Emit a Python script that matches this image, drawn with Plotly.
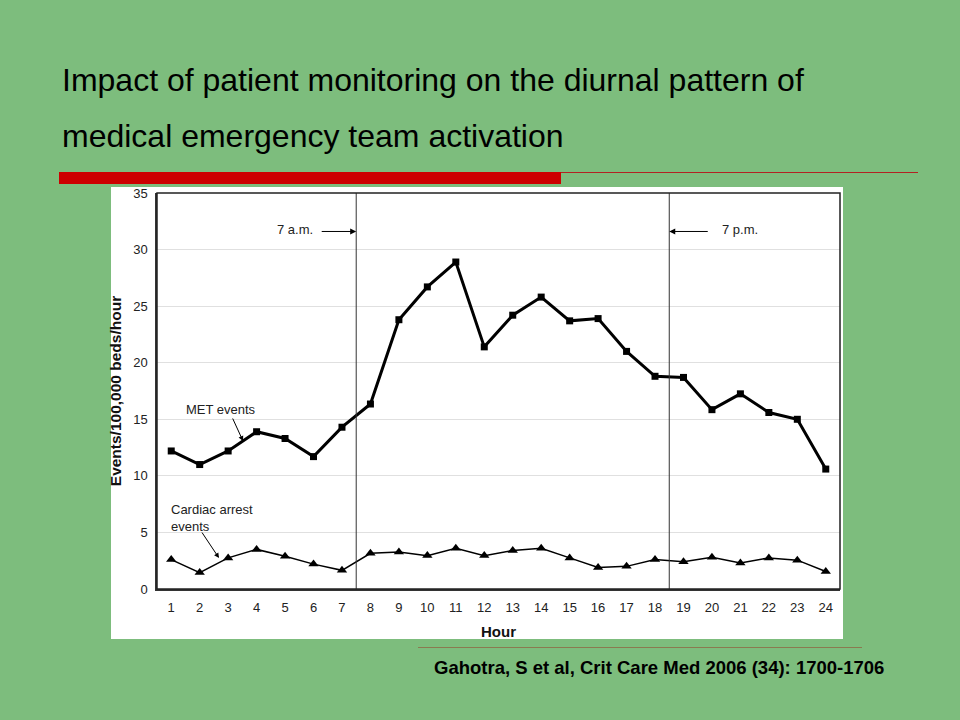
import plotly.graph_objects as go

hours = list(range(1, 25))
hour_labels = [str(h) for h in hours]
met_events = [12.2, 11.0, 12.2, 13.9, 13.3, 11.7, 14.3, 16.35, 23.8, 26.7, 28.9, 21.4,
              24.2, 25.8, 23.7, 23.9, 21.0, 18.8, 18.7, 15.85, 17.25, 15.6, 15.0, 10.6]
cardiac_arrest = [2.6, 1.45, 2.75, 3.5, 2.9, 2.2, 1.65, 3.15, 3.27, 2.95, 3.6, 2.95,
                  3.4, 3.6, 2.75, 1.9, 2.0, 2.6, 2.4, 2.8, 2.3, 2.75, 2.55, 1.55]
y_ticks = [0, 5, 10, 15, 20, 25, 30, 35]

W, H = 960, 720
L, R, T, B = 157, 840, 193, 589  # plot area in pixels


def px(x):
    return (x - L) / (R - L)


def py(y):
    return (B - y) / (B - T)


GREEN = "#7dbd7d"
FONT = "Liberation Sans, Arial, sans-serif"

fig = go.Figure()
fig.add_trace(go.Scatter(
    x=hours, y=met_events, mode="lines+markers", name="MET events",
    line=dict(color="black", width=3),
    marker=dict(symbol="square", size=7, color="black"),
))
fig.add_trace(go.Scatter(
    x=hours, y=cardiac_arrest, mode="lines+markers", name="Cardiac arrest events",
    line=dict(color="black", width=1.5),
    marker=dict(symbol="triangle-up", size=9, color="black"),
))

shapes = [
    dict(type="rect", xref="paper", yref="paper", x0=px(111), x1=px(843), y0=py(639), y1=py(187),
         fillcolor="white", line=dict(width=0), layer="below"),
    dict(type="rect", xref="paper", yref="paper", x0=px(59), x1=px(561), y0=py(184), y1=py(172),
         fillcolor="#cc0000", line=dict(width=0)),
    dict(type="line", xref="paper", yref="paper", x0=px(561), x1=px(918), y0=py(172.5), y1=py(172.5),
         line=dict(color="#b22222", width=1)),
    dict(type="line", xref="paper", yref="paper", x0=px(418), x1=px(862), y0=py(647.5), y1=py(647.5),
         line=dict(color="#8a7a50", width=1)),
    dict(type="line", xref="x", yref="paper", x0=7.5, x1=7.5, y0=0, y1=1,
         line=dict(color="#333333", width=1)),
    dict(type="line", xref="x", yref="paper", x0=18.5, x1=18.5, y0=0, y1=1,
         line=dict(color="#333333", width=1)),
    dict(type="rect", xref="paper", yref="paper", x0=0, x1=1, y0=0, y1=1,
         line=dict(color="#222222", width=1.5)),
]

annotations = [
    dict(text="Impact of patient monitoring on the diurnal pattern of", xref="paper", yref="paper",
         x=px(60), y=py(80), xanchor="left", yanchor="middle", showarrow=False,
         font=dict(size=32, color="black", family=FONT)),
    dict(text="medical emergency team activation", xref="paper", yref="paper",
         x=px(60), y=py(136), xanchor="left", yanchor="middle", showarrow=False,
         font=dict(size=32, color="black", family=FONT)),
    dict(text="<b>Gahotra, S et al, Crit Care Med 2006 (34): 1700-1706</b>", xref="paper", yref="paper",
         x=px(886), y=py(667), xanchor="right", yanchor="middle", showarrow=False,
         font=dict(size=18.5, color="black", family=FONT)),
    dict(text="7 a.m.", xref="paper", yref="paper", x=px(315), y=py(229), xanchor="right",
         yanchor="middle", showarrow=False, font=dict(size=13, color="#222", family=FONT)),
    dict(text="", xref="x", yref="y", x=7.5, y=31.6, ax=-36, ay=0, showarrow=True,
         arrowhead=2, arrowsize=1.2, arrowwidth=1, arrowcolor="black"),
    dict(text="7 p.m.", xref="paper", yref="paper", x=px(720), y=py(229), xanchor="left",
         yanchor="middle", showarrow=False, font=dict(size=13, color="#222", family=FONT)),
    dict(text="", xref="x", yref="y", x=18.5, y=31.6, ax=40, ay=0, showarrow=True,
         arrowhead=2, arrowsize=1.2, arrowwidth=1, arrowcolor="black"),
    dict(text="MET events", xref="paper", yref="paper", x=px(184), y=py(409), xanchor="left",
         yanchor="middle", showarrow=False, font=dict(size=13, color="#222", family=FONT)),
    dict(text="", xref="paper", yref="paper", x=px(243), y=py(441), ax=-11, ay=-24, showarrow=True,
         arrowhead=2, arrowsize=1, arrowwidth=1, arrowcolor="black"),
    dict(text="Cardiac arrest<br>events", xref="paper", yref="paper", x=px(169), y=py(518), xanchor="left",
         yanchor="middle", align="left", showarrow=False, font=dict(size=13, color="#222", family=FONT)),
    dict(text="", xref="paper", yref="paper", x=px(219), y=py(558), ax=-18, ay=-27, showarrow=True,
         arrowhead=2, arrowsize=1, arrowwidth=1, arrowcolor="black"),
]

fig.update_layout(
    width=W, height=H,
    margin=dict(l=L, r=W - R, t=T, b=H - B, pad=0),
    paper_bgcolor=GREEN, plot_bgcolor="white",
    showlegend=False,
    font=dict(family=FONT, color="#222222"),
    shapes=shapes, annotations=annotations,
    xaxis=dict(
        range=[0.5, 24.5], tickmode="array", tickvals=hours, ticktext=hour_labels,
        showgrid=False, zeroline=False, showline=True, linecolor="#333333", linewidth=1.5,
        ticks="", ticklabelstandoff=6, tickfont=dict(size=13, color="#222"),
        title=dict(text="<b>Hour</b>", font=dict(size=15, color="#111"), standoff=12),
    ),
    yaxis=dict(
        range=[0, 35], tickmode="array", tickvals=y_ticks,
        showgrid=True, gridcolor="#e0e0e0", gridwidth=1, zeroline=False,
        showline=True, linecolor="#333333", linewidth=1.5,
        ticks="", ticklabelstandoff=5, tickfont=dict(size=13, color="#222"),
        title=dict(text="<b>Events/100,000 beds/hour</b>", font=dict(size=15.5, color="#111"), standoff=8),
    ),
)

fig.write_html("out.html", config={"displayModeBar": False},
               post_script="document.body.style.margin='0';document.body.style.padding='0';")
